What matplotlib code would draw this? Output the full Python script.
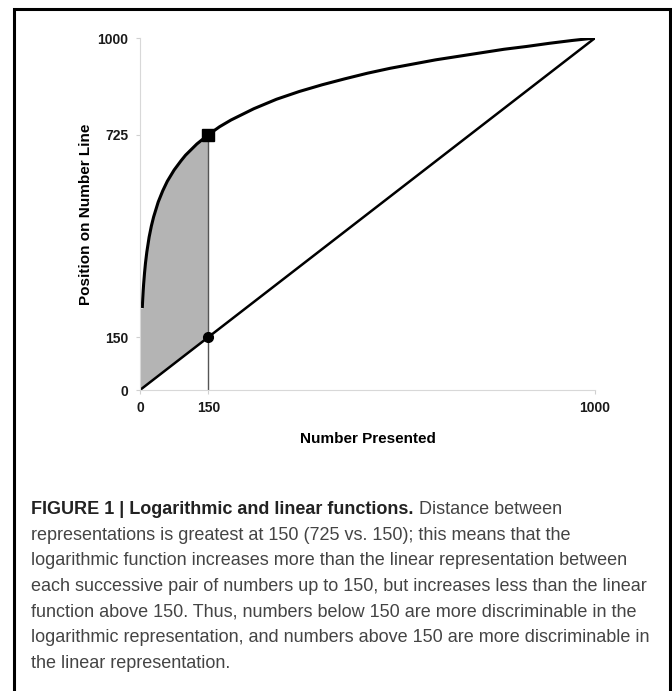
import matplotlib
matplotlib.use('Agg')
import matplotlib.pyplot as plt
from matplotlib.patches import Rectangle

plt.rcParams['font.family'] = ['Liberation Sans', 'DejaVu Sans']

# log curve, points
log_x = [5, 6, 7, 8, 10, 12, 15, 20, 25, 30, 40, 50, 60, 75, 90, 100, 125, 150,
         175, 200, 250, 300, 350, 400, 450, 500, 550, 600, 650, 700, 750, 800,
         850, 900, 950, 1000]
log_y = [233, 259, 282, 301, 333, 360, 392, 434, 466, 492, 534, 566, 593, 625,
         651, 667, 699, 725, 748, 767, 799, 826, 848, 867, 884, 900, 914, 926,
         938, 948, 958, 968, 976, 985, 993, 1000]

lin_x = [0, 1000]
lin_y = [0, 1000]

mark_x = 150
mark_log = 725
mark_lin = 150

xticks = [0, 150, 1000]
yticks = [0, 150, 725, 1000]

caption_bold = 'FIGURE 1 | Logarithmic and linear functions.'
caption_lines = [
    ' Distance between',
    'representations is greatest at 150 (725 vs. 150); this means that the',
    'logarithmic function increases more than the linear representation between',
    'each successive pair of numbers up to 150, but increases less than the linear',
    'function above 150. Thus, numbers below 150 are more discriminable in the',
    'logarithmic representation, and numbers above 150 are more discriminable in',
    'the linear representation.',
]

fig = plt.figure(figsize=(6.72, 6.91), dpi=100)
ax = fig.add_axes([140 / 672, 301 / 691, 455 / 672, 352 / 691])

# shaded area between the two functions up to 150
fx = [0] + [v for v in log_x if v <= mark_x]
fy = [log_y[0]] + [log_y[i] for i in range(len(log_x)) if log_x[i] <= mark_x]
ax.fill_between(fx, fx, fy, color='#b4b4b4', linewidth=0)

ax.plot([mark_x, mark_x], [0, mark_log], color='#555555', lw=1)
ax.plot(log_x, log_y, color='black', lw=2.2, solid_capstyle='butt')
ax.plot(lin_x, lin_y, color='black', lw=1.8)
ax.plot([mark_x], [mark_log], marker='s', color='black', markersize=9)
ax.plot([mark_x], [mark_lin], marker='o', color='black', markersize=7)

ax.set_xlim(0, 1000)
ax.set_ylim(0, 1000)
ax.set_xticks(xticks)
ax.set_yticks(yticks)
ax.set_xticklabels([str(v) for v in xticks], fontweight='bold', fontsize=10)
ax.set_yticklabels([str(v) for v in yticks], fontweight='bold', fontsize=10)
ax.tick_params(length=3, color='#d0d0d0', labelcolor='#1a1a1a')
ax.tick_params(axis='x', pad=5)
ax.tick_params(axis='y', pad=5.5)
for s in ['top', 'right']:
    ax.spines[s].set_visible(False)
for s in ['left', 'bottom']:
    ax.spines[s].set_color('#d8d8d8')
    ax.spines[s].set_linewidth(0.8)
ax.set_xlabel('Number Presented', fontweight='bold', fontsize=11, labelpad=12)
ax.set_ylabel('Position on Number Line', fontweight='bold', fontsize=11, labelpad=3)

# frame around the figure
fig.patches.append(Rectangle((14 / 672, -0.05), 656 / 672, 0.05 + 682 / 691,
                             transform=fig.transFigure, fill=False,
                             edgecolor='black', lw=2.2))

# caption
y0 = 1 - 514 / 691
step = 25.6 / 691
t = fig.text(31 / 672, y0, caption_bold, fontweight='bold', fontsize=13,
             color='#222222', va='baseline')
ax.annotate(caption_lines[0], xy=(1, 0), xycoords=t, fontsize=13,
            color='#444444', va='bottom', annotation_clip=False)
for i in range(1, len(caption_lines)):
    fig.text(31 / 672, y0 - i * step, caption_lines[i], fontsize=13,
             color='#444444', va='baseline')

plt.savefig('out.png', dpi=100)
plt.close()
